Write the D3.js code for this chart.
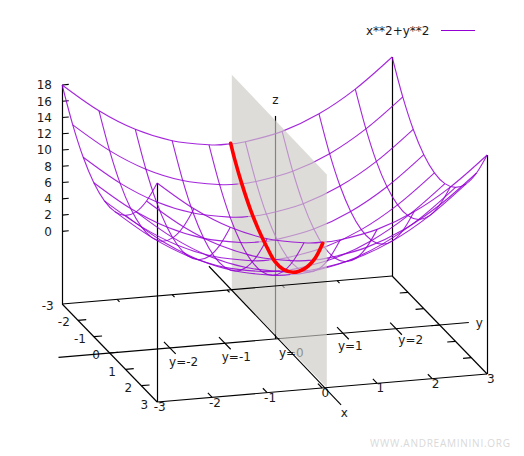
<!DOCTYPE html>
<html>
<head>
<meta charset="utf-8">
<script src="https://cdn.jsdelivr.net/npm/d3@7"></script>
<style>
body { margin: 0; background: #fff; }
text { font-family: "DejaVu Sans", sans-serif; font-size: 12px; fill: #1a1a1a; }
</style>
</head>
<body>
<svg id="chart" width="524" height="456"></svg>
<script>
// grid of the wireframe
var gridX = [-3, -2.33, -1.67, -1, -0.33, 0.33, 1, 1.67, 2.33, 3];
var gridY = [-3, -2.33, -1.67, -1, -0.33, 0.33, 1, 1.67, 2.33, 3];

// z at every grid node: surfaceZ[x index][y index]
var surfaceZ = [
  [18.00, 14.44, 11.78, 10.00, 9.11, 9.11, 10.00, 11.78, 14.44, 18.00],
  [14.44, 10.89,  8.22,  6.44, 5.56, 5.56,  6.44,  8.22, 10.89, 14.44],
  [11.78,  8.22,  5.56,  3.78, 2.89, 2.89,  3.78,  5.56,  8.22, 11.78],
  [10.00,  6.44,  3.78,  2.00, 1.11, 1.11,  2.00,  3.78,  6.44, 10.00],
  [ 9.11,  5.56,  2.89,  1.11, 0.22, 0.22,  1.11,  2.89,  5.56,  9.11],
  [ 9.11,  5.56,  2.89,  1.11, 0.22, 0.22,  1.11,  2.89,  5.56,  9.11],
  [10.00,  6.44,  3.78,  2.00, 1.11, 1.11,  2.00,  3.78,  6.44, 10.00],
  [11.78,  8.22,  5.56,  3.78, 2.89, 2.89,  3.78,  5.56,  8.22, 11.78],
  [14.44, 10.89,  8.22,  6.44, 5.56, 5.56,  6.44,  8.22, 10.89, 14.44],
  [18.00, 14.44, 11.78, 10.00, 9.11, 9.11, 10.00, 11.78, 14.44, 18.00]
];
// z where each x isoline passes y=0, used to split lines at the plane
var midZ = [9, 5.44, 2.78, 1, 0.11, 0.11, 1, 2.78, 5.44, 9];

// the red section
var redX = [-2.985, -2.713, -2.29, -1.766, -1.241, -0.711, -0.186, 0.338, 0.97, 1.709, 2.34, 2.827];
var redZ = [9.10, 7.55, 5.57, 3.56, 2.05, 0.95, 0.16, 0.27, 1.18, 3.15, 5.65, 8.48];
var redY = 0.06;

// plane drawn through y=0 (slightly off in the picture)
var planeX = [-3, 3];
var planeY = 0.085;
var planeZtop = [17.5, 17.26];

// axis lines and ticks
var xTicks = [-3, -2, -1, 0, 1, 2, 3];
var yTicks = [-3, -2, -1, 0, 1, 2, 3];
var zTicks = [0, 2, 4, 6, 8, 10, 12, 14, 16, 18];
var yArrowTicks = [-1.906, -0.906, 1.241, 2.207];
var yNames = ["y=-2", "y=-1", "y=0", "y=1", "y=2"];
var yNameAt = [-1.655, -0.697, 0.303, 1.376, 2.474];
var yNameDrop = [15.3, 14.7, 14.7, 13.1, 12.6];
var legendName = "x**2+y**2";
var watermark = "WWW.ANDREAMININI.ORG";

var purple = "#9400d3";
var baseZ = -8.94;

// orthographic projection, one scale per screen component
var cx = 274.65, cy = 339;
var xToH = d3.scaleLinear().domain([-3, 3]).range([-47.5, 47.5]);
var xToV = d3.scaleLinear().domain([-3, 3]).range([-49, 49]);
var yToH = d3.scaleLinear().domain([-3, 3]).range([-165, 165]);
var yToV = d3.scaleLinear().domain([-3, 3]).range([14, -14]);
var zToV = d3.scaleLinear().domain([baseZ, 18]).range([0, -219]);

function project(x, y, z) {
  return [cx + xToH(x) + yToH(y), cy + xToV(x) + yToV(y) + zToV(z)];
}

var svg = d3.select("#chart");
var smooth = d3.line().curve(d3.curveCardinal.tension(0));

function seg(g, a, b, color, width) {
  g.append("line")
    .attr("x1", a[0]).attr("y1", a[1])
    .attr("x2", b[0]).attr("y2", b[1])
    .attr("stroke", color).attr("stroke-width", width || 1.15);
}

// vertical line kept on the pixel grid so it stays black
function vert(g, a, b) {
  var vx = Math.floor(a[0]) + 0.5;
  seg(g, [vx, a[1]], [vx, b[1]], "#000", 1.2);
}

function label(str, p, anchor) {
  return under.append("text")
    .attr("x", p[0]).attr("y", p[1])
    .attr("dy", "0.36em")
    .attr("text-anchor", anchor || "middle")
    .text(str);
}

// everything that sits behind the grey plane
var under = svg.append("g");

// box verticals
[[-3, -3], [3, -3], [-3, 3], [3, 3]].forEach(function (c) {
  vert(under, project(c[0], c[1], baseZ), project(c[0], c[1], 18));
});

// z ticks on the left vertical
zTicks.forEach(function (z) {
  seg(under, project(-3, -3, z), project(-3, -2.88, z), "#000");
  label(z, [52, project(-3, -3, z)[1]], "end");
});

// x ticks, on the two x edges
xTicks.slice(1, -1).forEach(function (x) {
  seg(under, project(x, -3, baseZ), project(x, -2.85, baseZ), "#000");
  seg(under, project(x, 3, baseZ), project(x, 2.85, baseZ), "#000");
});
var xLabelH = d3.scaleLinear().domain([-3, 3]).range([47.7, 144.3]);
var xLabelV = d3.scaleLinear().domain([-3, 3]).range([305.7, 404.3]);
xTicks.forEach(function (x) {
  label(x, [xLabelH(x), xLabelV(x)]);
});

// y ticks, on the two y edges
yTicks.slice(1, -1).forEach(function (y) {
  seg(under, project(3, y, baseZ), project(2.73, y, baseZ), "#000");
  seg(under, project(-3, y, baseZ), project(-2.85, y, baseZ), "#000");
});
var yLabelH = d3.scaleLinear().domain([-3, 3]).range([159.7, 490.7]);
var yLabelV = d3.scaleLinear().domain([-3, 3]).range([407, 378.7]);
yTicks.forEach(function (y) {
  label(y, [yLabelH(y), yLabelV(y)]);
});

// the axes through the origin
seg(under, project(0, -3.93, baseZ), project(0, 3.53, baseZ), "#000");
vert(under, project(0, 0.015, baseZ), project(0, 0.015, 18.49));
yArrowTicks.forEach(function (y) {
  seg(under, project(-0.37, y, baseZ), project(0.37, y, baseZ), "#000");
});
yNames.forEach(function (name, i) {
  var p = project(0, yNameAt[i], baseZ);
  label(name, [p[0], p[1] + yNameDrop[i]]);
});
label("z", [275.3, 99.7]);
label("y", [479.3, 323]);
label("x", [344.3, 413]);

// surface pieces behind the plane (y > 0)
var backLines = under.append("g").attr("fill", "none").attr("stroke", purple)
  .attr("stroke-width", 1.1).attr("stroke-opacity", 0.85);
var frontLines;

function drawSurface(g, isBack) {
  // lines of constant y
  gridY.forEach(function (y, j) {
    if ((y > 0) !== isBack) return;
    g.append("path").attr("d", smooth(gridX.map(function (x, i) {
      return project(x, y, surfaceZ[i][j]);
    })));
  });
  // lines of constant x, split at y=0
  gridX.forEach(function (x, i) {
    var pts = [];
    gridY.forEach(function (y, j) {
      if ((y > 0) === isBack) pts.push(project(x, y, surfaceZ[i][j]));
    });
    if (isBack) pts.unshift(project(x, 0, midZ[i]));
    else pts.push(project(x, 0, midZ[i]));
    g.append("path").attr("d", smooth(pts));
  });
}
drawSurface(backLines, true);

// grey plane
var planeLine = d3.line();
svg.append("path")
  .attr("d", planeLine([
    project(planeX[0], planeY, baseZ),
    project(planeX[0], planeY, planeZtop[0]),
    project(planeX[1], planeY, planeZtop[1]),
    project(planeX[1], planeY, baseZ)
  ]) + "Z")
  .attr("fill", "#cbc9c3")
  .attr("fill-opacity", 0.65);

// on top of the plane
var over = svg.append("g");
seg(over, project(-4.43, 0.08, baseZ), project(4.04, 0.045, baseZ), "#000");
[[[-3, -3], [3, -3]], [[3, -3], [3, 3]], [[3, 3], [-3, 3]], [[-3, 3], [-3, -3]]].forEach(function (e) {
  seg(over, project(e[0][0], e[0][1], baseZ), project(e[1][0], e[1][1], baseZ), "#000");
});

frontLines = svg.append("g").attr("fill", "none").attr("stroke", purple)
  .attr("stroke-width", 1.1).attr("stroke-opacity", 0.85);
drawSurface(frontLines, false);

svg.append("path")
  .attr("d", d3.line().curve(d3.curveCatmullRom)(redX.map(function (x, i) { return project(x, redY, redZ[i]); })))
  .attr("fill", "none")
  .attr("stroke", "#f00")
  .attr("stroke-width", 3.6)
  .attr("stroke-linecap", "round");

// legend
svg.append("text").attr("x", 429.5).attr("y", 35).attr("text-anchor", "end").text(legendName);
svg.append("line")
  .attr("x1", 441).attr("x2", 475).attr("y1", 30.5).attr("y2", 30.5)
  .attr("stroke", purple);

// site mark
svg.append("text")
  .attr("x", 370).attr("y", 447)
  .style("font-family", "'Open Sans', sans-serif")
  .style("font-size", "10px")
  .style("letter-spacing", "0.75px")
  .style("fill", "#d9d9d9")
  .text(watermark);
</script>
</body>
</html>
